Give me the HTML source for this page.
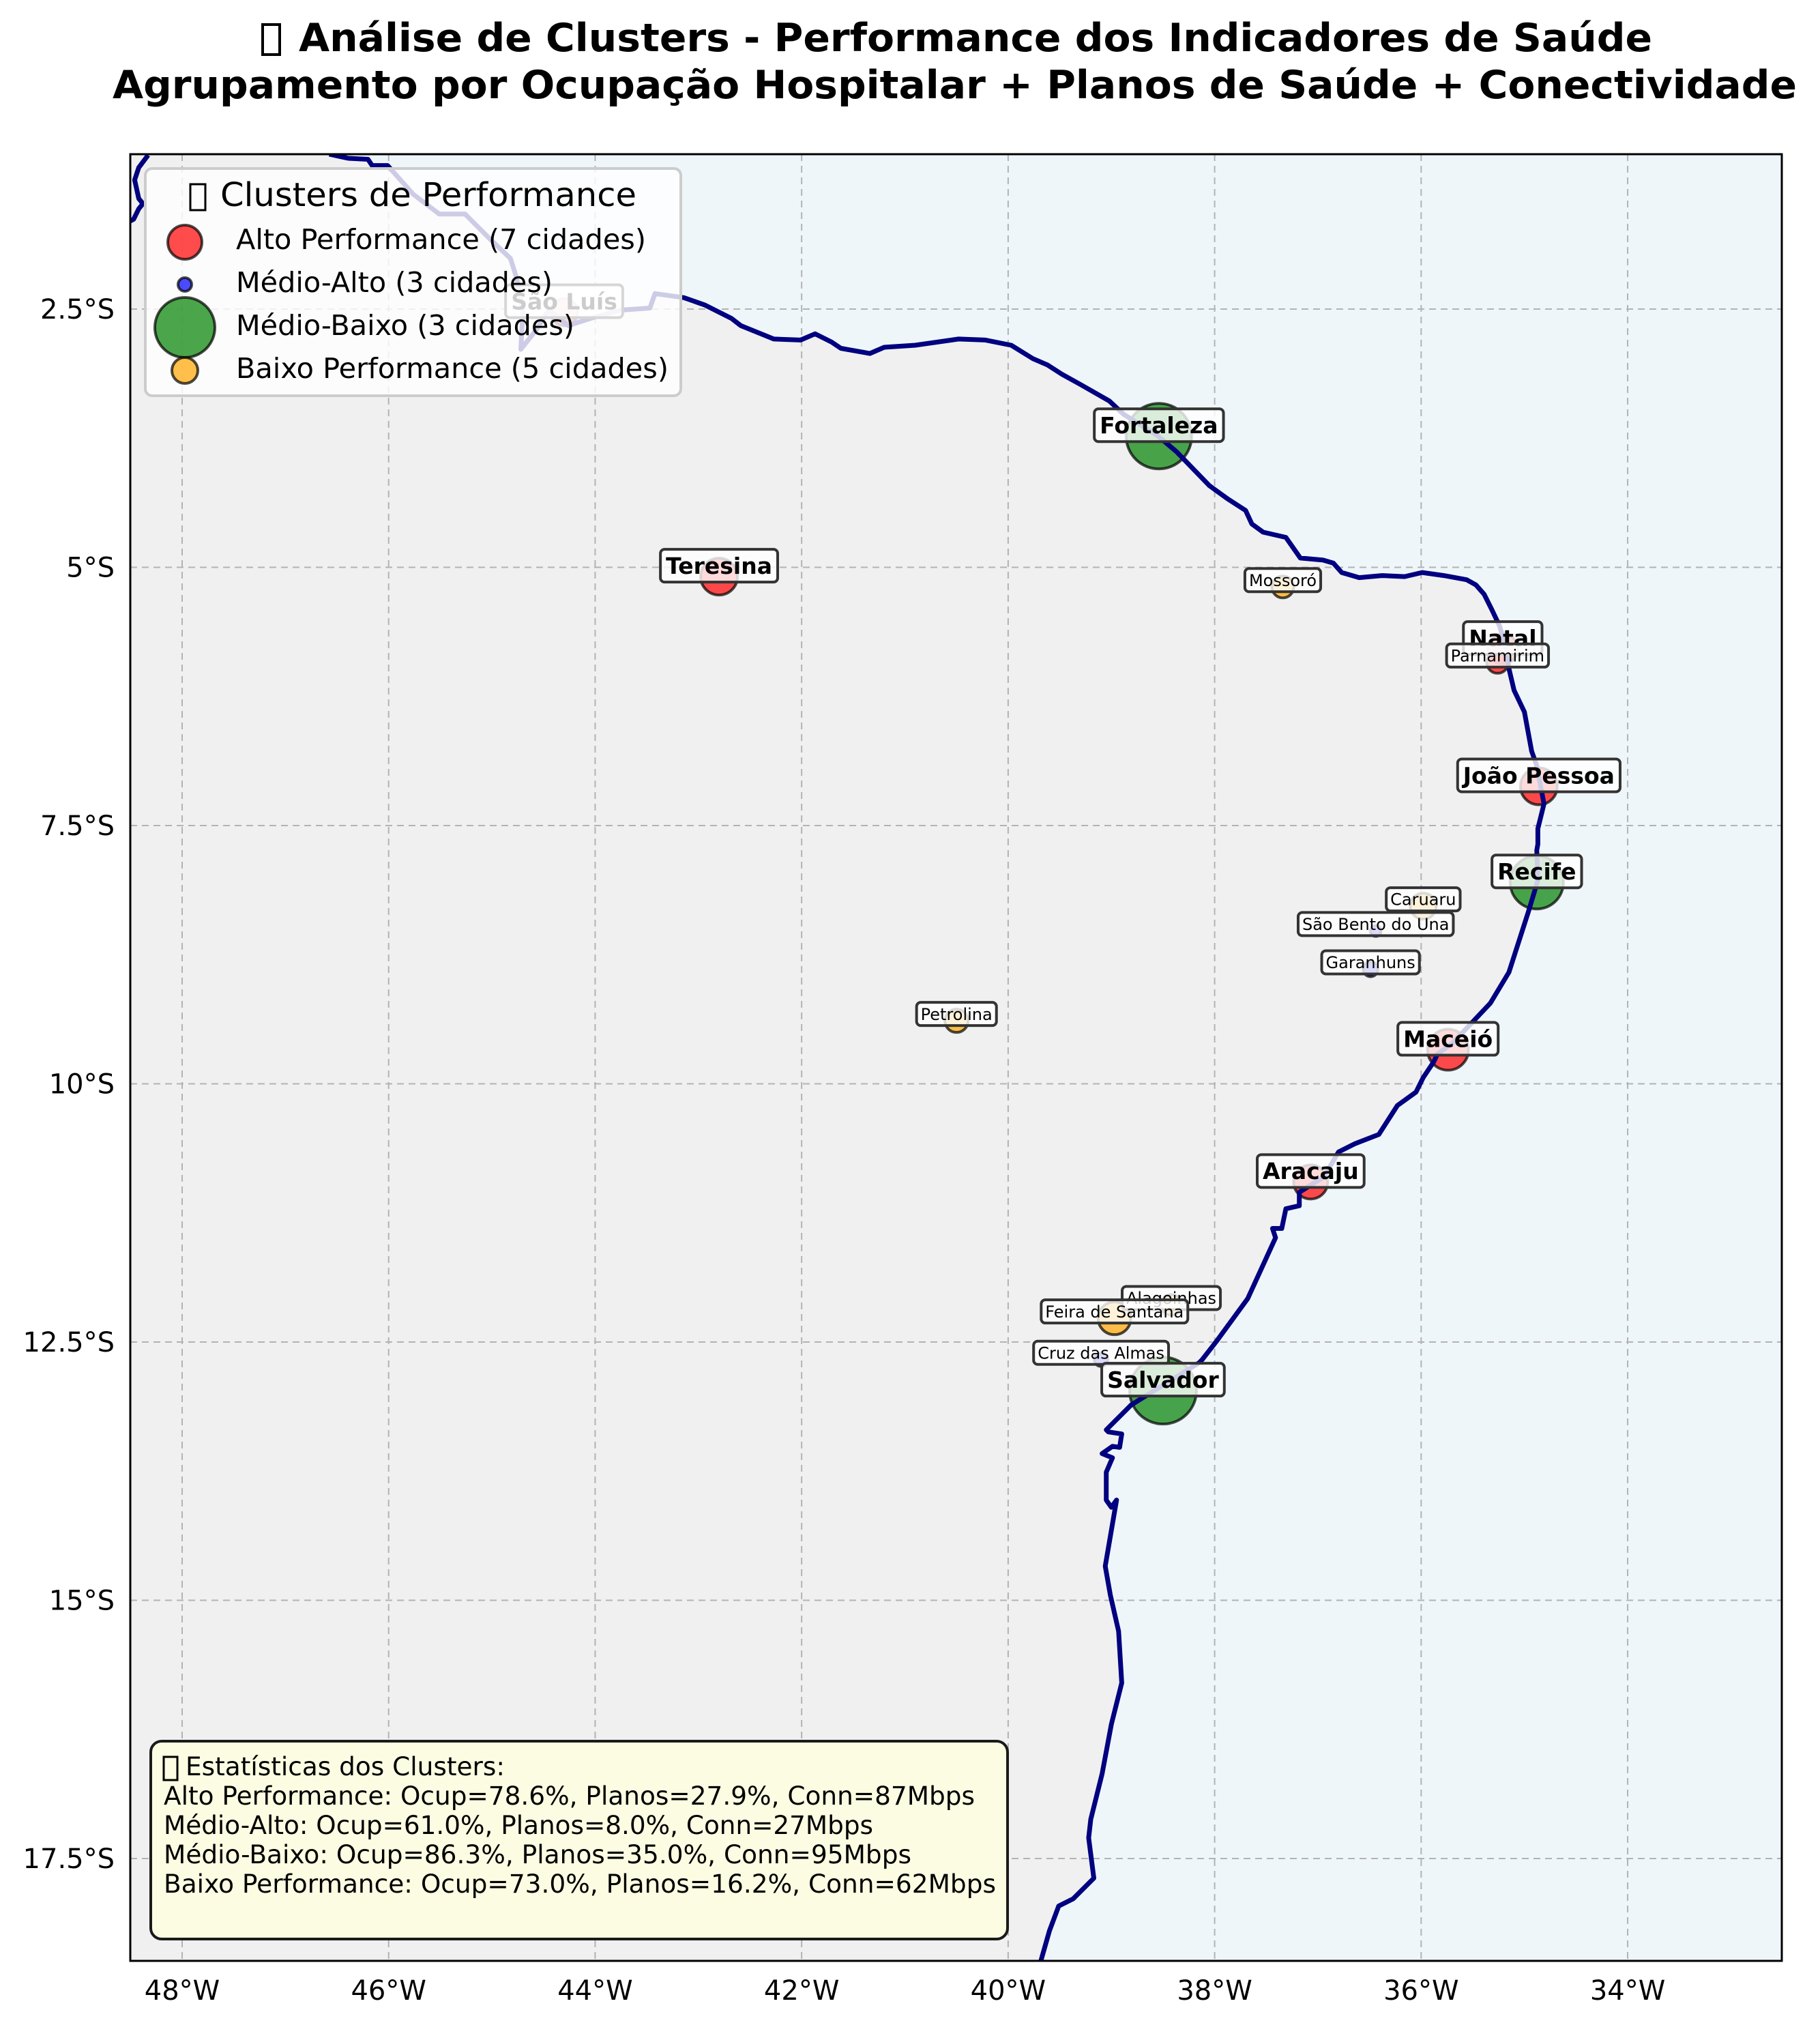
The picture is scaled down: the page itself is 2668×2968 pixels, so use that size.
<!DOCTYPE html>
<html><head><meta charset="utf-8">
<style>
html,body{margin:0;padding:0;background:#fff;}
svg{display:block;font-family:"DejaVu Sans","Liberation Sans",sans-serif;}
</style></head>
<body>
<svg id="chart" width="2668" height="2968" viewBox="0 0 2668 2968" xmlns="http://www.w3.org/2000/svg">
  <g>
    <rect x="385" y="36" width="25" height="44" fill="none" stroke="#000" stroke-width="4"/>
    <text x="438" y="75" font-size="57" font-weight="bold" textLength="1984" lengthAdjust="spacingAndGlyphs">Análise de Clusters - Performance dos Indicadores de Saúde</text>
    <text x="165" y="144" font-size="57" font-weight="bold" textLength="2469" lengthAdjust="spacingAndGlyphs">Agrupamento por Ocupação Hospitalar + Planos de Saúde + Conectividade</text>
  </g>
  <defs><clipPath id="plotclip"><rect x="191" y="226" width="2421" height="2648"/></clipPath></defs>
  <g id="plot" clip-path="url(#plotclip)">
    <rect x="191" y="226" width="2421" height="2648" fill="#eef6fa"/>
    <path id="land" fill="#f0f0f0"/>
    <g id="grid"></g>
    <g id="points"></g>
    <path id="coast" fill="none" stroke="#000080" stroke-width="7" stroke-linejoin="round"/>
    <path id="coast2" fill="none" stroke="#000080" stroke-width="7" stroke-linejoin="round"/>
    <g id="labels"></g>
  </g>
  <rect x="191" y="226" width="2421" height="2648" fill="none" stroke="#000" stroke-width="3"/>
  <g id="ticks" font-size="40"></g>

  <g>
    <rect x="213" y="247" width="785" height="333" rx="10" fill="#fff" fill-opacity="0.8" stroke="#cccccc" stroke-width="4"/>
    <rect x="279" y="270" width="22" height="38" fill="none" stroke="#000" stroke-width="3"/>
    <text x="323" y="302" font-size="48" textLength="610" lengthAdjust="spacingAndGlyphs">Clusters de Performance</text>
    <g>
      <circle cx="271" cy="355" r="25" fill="red" fill-opacity="0.7" stroke="#000" stroke-opacity="0.7" stroke-width="4"/>
      <text x="346" y="365" font-size="41" textLength="601" lengthAdjust="spacingAndGlyphs">Alto Performance (7 cidades)</text>
    </g>
    <g>
      <circle cx="271" cy="417" r="10" fill="blue" fill-opacity="0.7" stroke="#000" stroke-opacity="0.7" stroke-width="4"/>
      <text x="346" y="428" font-size="41" textLength="464" lengthAdjust="spacingAndGlyphs">Médio-Alto (3 cidades)</text>
    </g>
    <g>
      <circle cx="271" cy="480" r="44" fill="green" fill-opacity="0.7" stroke="#000" stroke-opacity="0.7" stroke-width="4"/>
      <text x="346" y="491" font-size="41" textLength="496" lengthAdjust="spacingAndGlyphs">Médio-Baixo (3 cidades)</text>
    </g>
    <g>
      <circle cx="271" cy="543" r="19" fill="orange" fill-opacity="0.7" stroke="#000" stroke-opacity="0.7" stroke-width="4"/>
      <text x="346" y="554" font-size="41" textLength="634" lengthAdjust="spacingAndGlyphs">Baixo Performance (5 cidades)</text>
    </g>
  </g>

  <g>
    <rect x="221" y="2552" width="1256" height="290" rx="16" fill="#fcfce2" stroke="#1a1a1a" stroke-width="4"/>
    <rect x="240" y="2575" width="20" height="34" fill="none" stroke="#000" stroke-width="3"/>
    <text x="272" y="2602" font-size="37" textLength="468" lengthAdjust="spacingAndGlyphs">Estatísticas dos Clusters:</text>
    <text x="240" y="2645" font-size="37" textLength="1189" lengthAdjust="spacingAndGlyphs">Alto Performance: Ocup=78.6%, Planos=27.9%, Conn=87Mbps</text>
    <text x="240" y="2688" font-size="37" textLength="1040" lengthAdjust="spacingAndGlyphs">Médio-Alto: Ocup=61.0%, Planos=8.0%, Conn=27Mbps</text>
    <text x="240" y="2731" font-size="37" textLength="1096" lengthAdjust="spacingAndGlyphs">Médio-Baixo: Ocup=86.3%, Planos=35.0%, Conn=95Mbps</text>
    <text x="240" y="2774" font-size="37" textLength="1220" lengthAdjust="spacingAndGlyphs">Baixo Performance: Ocup=73.0%, Planos=16.2%, Conn=62Mbps</text>
  </g>
</svg>
<script>
const cityNames = ["São Luís","Fortaleza","Teresina","Mossoró","Natal","Parnamirim","João Pessoa","Recife","Caruaru","São Bento do Una","Garanhuns","Petrolina","Maceió","Aracaju","Alagoinhas","Feira de Santana","Cruz das Almas","Salvador"];
const cityLon = [-44.30,-38.54,-42.80,-37.34,-35.21,-35.26,-34.86,-34.88,-35.98,-36.44,-36.49,-40.50,-35.74,-37.07,-38.42,-38.97,-39.10,-38.50];
const cityLat = [-2.53,-3.73,-5.09,-5.19,-5.79,-5.92,-7.12,-8.05,-8.28,-8.52,-8.89,-9.39,-9.67,-10.95,-12.14,-12.27,-12.67,-12.97];
const cityCluster = [0,2,0,3,0,0,0,2,3,1,1,3,0,0,3,3,1,2];
const citySize = [400,2304,729,256,484,256,729,1521,361,64,121,289,900,625,225,576,100,2401];
const cityCapital = [1,1,1,0,1,0,1,1,0,0,0,0,1,1,0,0,0,1];
const clusterColors = ["red","blue","green","orange"];
const lonTicks = [-48,-46,-44,-42,-40,-38,-36,-34];
const latTicks = [-2.5,-5,-7.5,-10,-12.5,-15,-17.5];
const coastLon = [-46.575,-46.39,-46.2,-46.16,-46.01,-45.76,-45.51,-45.26,-45.01,-44.82,-44.76,-44.70,-44.72,-44.57,-44.45,-44.26,-44.01,-43.75,-43.47,-43.42,-43.14,-42.94,-42.82,-42.68,-42.59,-42.27,-42.01,-41.87,-41.71,-41.62,-41.34,-41.20,-40.90,-40.48,-40.22,-39.97,-39.76,-39.62,-39.48,-39.30,-39.02,-38.88,-38.56,-38.37,-38.05,-37.87,-37.70,-37.64,-37.53,-37.31,-37.17,-36.95,-36.85,-36.77,-36.60,-36.38,-36.16,-35.99,-35.78,-35.56,-35.47,-35.39,-35.32,-35.24,-35.18,-35.15,-35.10,-35.00,-34.93,-34.88,-34.81,-34.87,-34.87,-34.88,-34.87,-34.96,-35.15,-35.33,-35.51,-35.70,-35.84,-35.88,-35.98,-36.05,-36.23,-36.41,-36.64,-36.80,-36.94,-37.18,-37.18,-37.31,-37.35,-37.44,-37.41,-37.68,-37.98,-38.12,-38.15,-38.81,-39.05,-39.03,-38.90,-38.92,-38.99,-39.09,-38.99,-39.05,-39.05,-39.00,-38.95,-39.06,-39.01,-38.93,-38.90,-39.00,-39.09,-39.20,-39.22,-39.17,-39.37,-39.51,-39.60,-39.70];
const coastLat = [-1.00,-1.04,-1.05,-1.11,-1.11,-1.39,-1.58,-1.58,-1.83,-2.01,-2.20,-2.51,-2.89,-2.70,-2.51,-2.66,-2.58,-2.51,-2.49,-2.35,-2.39,-2.46,-2.52,-2.59,-2.66,-2.79,-2.80,-2.74,-2.82,-2.88,-2.93,-2.87,-2.85,-2.79,-2.80,-2.85,-2.98,-3.04,-3.13,-3.23,-3.39,-3.52,-3.72,-3.88,-4.21,-4.34,-4.45,-4.58,-4.66,-4.71,-4.91,-4.93,-4.96,-5.05,-5.10,-5.08,-5.09,-5.05,-5.08,-5.12,-5.17,-5.26,-5.40,-5.57,-5.77,-5.98,-6.19,-6.40,-6.78,-6.92,-7.29,-7.53,-7.68,-7.74,-8.03,-8.33,-8.92,-9.22,-9.41,-9.61,-9.71,-9.79,-9.94,-10.08,-10.21,-10.49,-10.58,-10.66,-10.90,-11.05,-11.18,-11.21,-11.40,-11.40,-11.49,-12.08,-12.49,-12.67,-12.70,-13.11,-13.35,-13.37,-13.39,-13.52,-13.51,-13.58,-13.62,-13.76,-14.03,-14.10,-14.03,-14.67,-14.95,-15.30,-15.80,-16.20,-16.68,-17.12,-17.30,-17.69,-17.89,-17.96,-18.20,-18.55];
const westLon = [-48.33,-48.42,-48.46,-48.42,-48.38,-48.42,-48.47,-48.60];
const westLat = [-1.01,-1.13,-1.25,-1.43,-1.48,-1.53,-1.63,-1.70];

const NS = "http://www.w3.org/2000/svg";
function xs(lon){ return 267 + (lon + 48) * 151.36; }
function ys(lat){ return 453 + (-2.5 - lat) * 151.4; }
function mk(tag, attrs, parent){ const e = document.createElementNS(NS, tag); for (const k in attrs) e.setAttribute(k, attrs[k]); parent.appendChild(e); return e; }

// land & coast
let d = "";
for (let i = 0; i < coastLon.length; i++) d += (i ? "L" : "M") + xs(coastLon[i]).toFixed(1) + "," + ys(coastLat[i]).toFixed(1);
document.getElementById("coast").setAttribute("d", d);
document.getElementById("land").setAttribute("d", d + "L" + xs(-48.6) + "," + ys(-18.6) + "L" + xs(-48.6) + "," + ys(-0.9) + "L" + xs(-46.575) + "," + ys(-0.9) + "Z");
let d2 = "";
for (let i = 0; i < westLon.length; i++) d2 += (i ? "L" : "M") + xs(westLon[i]).toFixed(1) + "," + ys(westLat[i]).toFixed(1);
document.getElementById("coast2").setAttribute("d", d2);

// grid & ticks
const grid = document.getElementById("grid"), ticks = document.getElementById("ticks");
lonTicks.forEach(function(v){
  const l = mk("line", {x1: xs(v), x2: xs(v), y1: 226, y2: 2874, stroke: "#b3b3b3", "stroke-width": 2, "stroke-dasharray": "10,7"}, grid);
  
  
  const t = mk("text", {x: xs(v), y: 2931, "text-anchor": "middle"}, ticks);
  t.textContent = Math.abs(v) + "°W";
  
  
});
latTicks.forEach(function(v){
  const l = mk("line", {x1: 191, x2: 2612, y1: ys(v), y2: ys(v), stroke: "#b3b3b3", "stroke-width": 2, "stroke-dasharray": "10,7"}, grid);
  
  
  const t = mk("text", {x: 168, y: ys(v) + 14, "text-anchor": "end"}, ticks);
  t.textContent = Math.abs(v) + "°S";
  
  
});

// points
const pts = document.getElementById("points"), labs = document.getElementById("labels");
for (let i = 0; i < cityNames.length; i++) {
  const c = mk("circle", {cx: xs(cityLon[i]), cy: ys(cityLat[i]), r: Math.sqrt(citySize[i]), fill: clusterColors[cityCluster[i]], "fill-opacity": 0.7, stroke: "#000", "stroke-opacity": 0.7, "stroke-width": 4}, pts);
  
  
}
for (let i = 0; i < cityNames.length; i++) {
  const cap = cityCapital[i] === 1;
  const fs = cap ? 33 : 24, h = cap ? 48 : 34, pad = cap ? 8 : 6;
  const cx = xs(cityLon[i]), cy = ys(cityLat[i]) - (cap ? 16 : 10);
  const g = mk("g", {}, labs);
  
  
  const r = mk("rect", {y: cy - h / 2, height: h, rx: 6, fill: "#fff", "fill-opacity": 0.8, stroke: "#333", "stroke-width": 4}, g);
  
  
  const t = mk("text", {x: cx, y: cy + fs * 0.36, "text-anchor": "middle", "font-size": fs, "font-weight": cap ? "bold" : "normal"}, g);
  t.textContent = cityNames[i];
  
  
  let w = fs * 0.62 * cityNames[i].length;
  try { w = t.getComputedTextLength(); } catch (e) {}
  r.setAttribute("x", cx - w / 2 - pad);
  r.setAttribute("width", w + 2 * pad);
}
</script>
</body></html>
